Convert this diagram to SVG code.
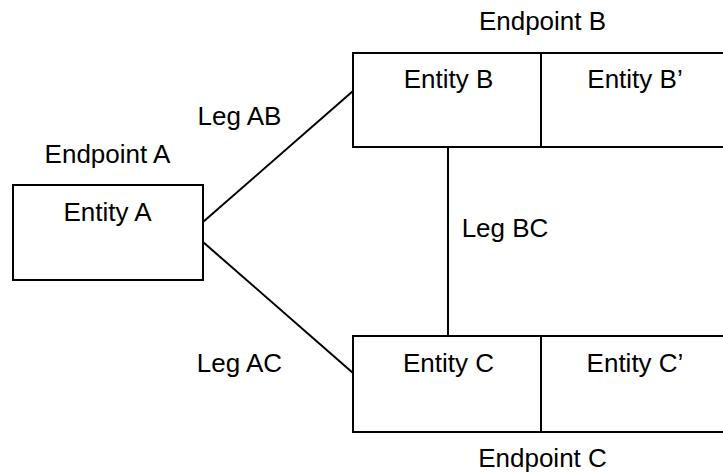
<svg xmlns="http://www.w3.org/2000/svg" width="723" height="472" viewBox="0 0 723 472">
<style>
.box{fill:#fff;stroke:#000;stroke-width:2}
.ln{stroke:#000;stroke-width:2;fill:none}
text{font-family:"Liberation Sans",Arial,sans-serif;font-size:26px;fill:#000;text-anchor:middle}
</style>
<rect width="723" height="472" fill="#fff"/>
<g id="connectors">
<line class="ln" x1="203" y1="222" x2="353" y2="91"/>
<line class="ln" x1="203" y1="242" x2="353" y2="373"/>
<line class="ln" x1="448" y1="147" x2="448" y2="336"/>
<text x="239.5" y="125">Leg AB</text>
<text x="239.5" y="372">Leg AC</text>
<text x="505" y="237">Leg BC</text>
</g>
<g id="endpointA">
<text x="107.5" y="163">Endpoint A</text>
<rect class="box" x="13" y="185" width="190" height="95"/>
<text x="107.5" y="221">Entity A</text>
</g>
<g id="endpointB">
<text x="542.5" y="30">Endpoint B</text>
<rect class="box" x="353" y="53" width="376" height="94"/>
<line class="ln" x1="541" y1="53" x2="541" y2="147"/>
<text x="448.5" y="88">Entity B</text>
<text x="635" y="88">Entity B’</text>
</g>
<g id="endpointC">
<rect class="box" x="353" y="336" width="376" height="96"/>
<line class="ln" x1="541" y1="336" x2="541" y2="432"/>
<text x="448.5" y="372">Entity C</text>
<text x="635" y="372">Entity C’</text>
<text x="542.5" y="467">Endpoint C</text>
</g>
</svg>
